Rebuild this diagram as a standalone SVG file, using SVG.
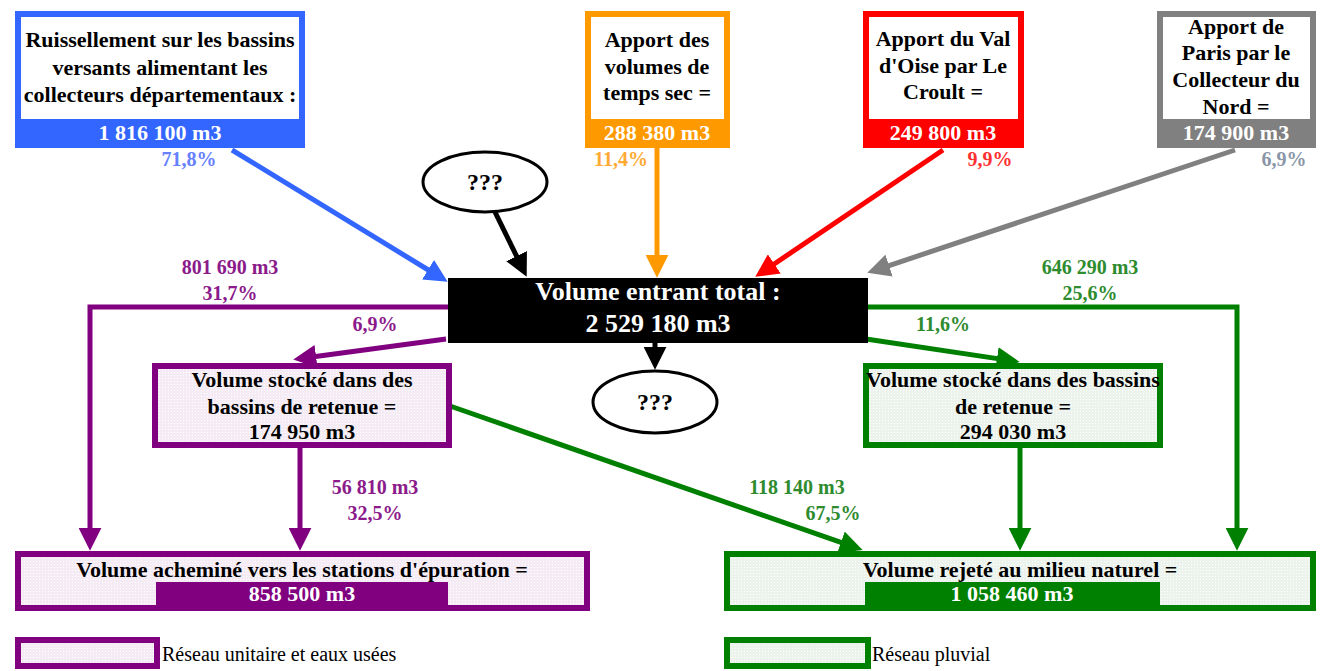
<svg xmlns="http://www.w3.org/2000/svg" width="1320" height="671" viewBox="0 0 1320 671">
<style>
text{font-family:"Liberation Serif","Times New Roman",serif;font-weight:bold;text-anchor:middle}
.t{font-size:22px;fill:#000}
.w{font-size:22px;fill:#fff}
.big{font-size:26px;fill:#fff}
.q{font-size:24px;fill:#000}
.p{font-size:20px}
.leg{font-size:20px;font-weight:normal;text-anchor:start;fill:#000}
.ln{fill:none;stroke-width:5}
</style>
<defs>
<pattern id="pp" width="3" height="3" patternUnits="userSpaceOnUse"><rect width="3" height="3" fill="#f4ebf4"/><rect width="1" height="1" fill="#fff"/></pattern>
<pattern id="pg" width="3" height="3" patternUnits="userSpaceOnUse"><rect width="3" height="3" fill="#ecf3ec"/><rect width="1" height="1" fill="#fff"/></pattern>
<marker id="aBlue" viewBox="0 0 10 10" refX="1" refY="5" markerWidth="23" markerHeight="23" markerUnits="userSpaceOnUse" orient="auto"><path d="M0,0 L10,5 L0,10z" fill="#3366ff"/></marker>
<marker id="aOr" viewBox="0 0 10 10" refX="1" refY="5" markerWidth="23" markerHeight="23" markerUnits="userSpaceOnUse" orient="auto"><path d="M0,0 L10,5 L0,10z" fill="#ff9900"/></marker>
<marker id="aRed" viewBox="0 0 10 10" refX="1" refY="5" markerWidth="23" markerHeight="23" markerUnits="userSpaceOnUse" orient="auto"><path d="M0,0 L10,5 L0,10z" fill="#ff0000"/></marker>
<marker id="aGr" viewBox="0 0 10 10" refX="1" refY="5" markerWidth="23" markerHeight="23" markerUnits="userSpaceOnUse" orient="auto"><path d="M0,0 L10,5 L0,10z" fill="#808080"/></marker>
<marker id="aBk" viewBox="0 0 10 10" refX="1" refY="5" markerWidth="23" markerHeight="23" markerUnits="userSpaceOnUse" orient="auto"><path d="M0,0 L10,5 L0,10z" fill="#000"/></marker>
<marker id="aPu" viewBox="0 0 10 10" refX="1" refY="5" markerWidth="23" markerHeight="23" markerUnits="userSpaceOnUse" orient="auto"><path d="M0,0 L10,5 L0,10z" fill="#800080"/></marker>
<marker id="aGn" viewBox="0 0 10 10" refX="1" refY="5" markerWidth="23" markerHeight="23" markerUnits="userSpaceOnUse" orient="auto"><path d="M0,0 L10,5 L0,10z" fill="#008000"/></marker>
</defs>
<rect width="1320" height="671" fill="#fff"/>

<g id="connectors">
<path class="ln" stroke="#3366ff" d="M232,150 L430,271" marker-end="url(#aBlue)"/>
<path class="ln" stroke="#000" d="M495,212 L517.6,258.2" marker-end="url(#aBk)"/>
<path class="ln" stroke="#ff9900" d="M657,148 L657,257" marker-end="url(#aOr)"/>
<path class="ln" stroke="#ff0000" d="M943,150 L772.4,265.2" marker-end="url(#aRed)"/>
<path class="ln" stroke="#808080" d="M1235,150 L886.9,266.3" marker-end="url(#aGr)"/>
<path class="ln" stroke="#000" d="M655,343 L655,349" marker-end="url(#aBk)"/>
<path class="ln" stroke="#800080" d="M446,339 L313.8,356.8" marker-end="url(#aPu)"/>
<path class="ln" stroke="#008000" d="M866,339 L999.2,358.9" marker-end="url(#aGn)"/>
<path class="ln" stroke="#800080" d="M448,307 L90,307 L90,530" marker-end="url(#aPu)"/>
<path class="ln" stroke="#800080" d="M300,448 L300,530" marker-end="url(#aPu)"/>
<path class="ln" stroke="#008000" d="M868,307 L1237,307 L1237,530" marker-end="url(#aGn)"/>
<path class="ln" stroke="#008000" d="M1020,448 L1020,530" marker-end="url(#aGn)"/>
<path class="ln" stroke="#008000" d="M450,406 L843.1,543.2" marker-end="url(#aGn)"/>
</g>

<g id="labels">
<text class="p" x="189" y="166" fill="#6680ff">71,8%</text>
<text class="p" x="621" y="166" fill="#ffaa33">11,4%</text>
<text class="p" x="990" y="166" fill="#ff3030">9,9%</text>
<text class="p" x="1284" y="166" fill="#8a96a8">6,9%</text>
<text class="p" x="230" y="274" fill="#8b1a8b">801 690 m3</text>
<text class="p" x="230" y="300" fill="#8b1a8b">31,7%</text>
<text class="p" x="375" y="331" fill="#8b1a8b">6,9%</text>
<text class="p" x="375" y="494" fill="#8b1a8b">56 810 m3</text>
<text class="p" x="375" y="520" fill="#8b1a8b">32,5%</text>
<text class="p" x="1090" y="274" fill="#2e8b2e">646 290 m3</text>
<text class="p" x="1090" y="300" fill="#2e8b2e">25,6%</text>
<text class="p" x="943" y="331" fill="#2e8b2e">11,6%</text>
<text class="p" x="797" y="494" fill="#2e8b2e">118 140 m3</text>
<text class="p" x="833" y="520" fill="#2e8b2e">67,5%</text>
</g>

<g id="n-ruissellement">
<rect x="15" y="11" width="290" height="137" fill="#3366ff"/>
<rect x="21" y="17" width="278" height="102" fill="#fff"/>
<text class="t" x="160" y="47">Ruissellement sur les bassins</text>
<text class="t" x="160" y="75">versants alimentant les</text>
<text class="t" x="160" y="102">collecteurs départementaux :</text>
<text class="w" x="160" y="140">1 816 100 m3</text>
</g>

<g id="n-tempssec">
<rect x="585" y="11" width="145" height="137" fill="#ff9900"/>
<rect x="591" y="17" width="133" height="102" fill="#fff"/>
<text class="t" x="657" y="47">Apport des</text>
<text class="t" x="657" y="74">volumes de</text>
<text class="t" x="657" y="100">temps sec =</text>
<text class="w" x="657" y="140">288 380 m3</text>
</g>

<g id="n-valdoise">
<rect x="863" y="11" width="161" height="137" fill="#ff0000"/>
<rect x="869" y="17" width="149" height="102" fill="#fff"/>
<text class="t" x="943" y="46">Apport du Val</text>
<text class="t" x="943" y="73">d'Oise par Le</text>
<text class="t" x="943" y="99">Croult =</text>
<text class="w" x="943" y="140">249 800 m3</text>
</g>

<g id="n-paris">
<rect x="1157" y="11" width="159" height="137" fill="#808080"/>
<rect x="1163" y="17" width="147" height="102" fill="#fff"/>
<text class="t" x="1236" y="34">Apport de</text>
<text class="t" x="1236" y="60">Paris par le</text>
<text class="t" x="1236" y="87">Collecteur du</text>
<text class="t" x="1236" y="114">Nord =</text>
<text class="w" x="1236" y="140">174 900 m3</text>
</g>

<g id="n-inconnu-haut">
<ellipse cx="485" cy="182" rx="62" ry="30" fill="#fff" stroke="#000" stroke-width="3"/>
<text class="q" x="485" y="190">???</text>
</g>

<g id="n-total">
<rect x="448" y="278" width="420" height="65" fill="#000"/>
<text class="big" x="658" y="300">Volume entrant total :</text>
<text class="big" x="658" y="332">2 529 180 m3</text>
</g>

<g id="n-inconnu-bas">
<ellipse cx="655" cy="402" rx="62" ry="31" fill="#fff" stroke="#000" stroke-width="3"/>
<text class="q" x="655" y="410">???</text>
</g>

<g id="n-stock-unitaire">
<rect x="155" y="366" width="294" height="79" fill="url(#pp)" stroke="#800080" stroke-width="6"/>
<text class="t" x="302" y="387">Volume stocké dans des</text>
<text class="t" x="302" y="414">bassins de retenue =</text>
<text class="t" x="302" y="439">174 950 m3</text>
</g>

<g id="n-stock-pluvial">
<rect x="866" y="366" width="294" height="79" fill="url(#pg)" stroke="#008000" stroke-width="6"/>
<text class="t" x="1013" y="387">Volume stocké dans des bassins</text>
<text class="t" x="1013" y="414">de retenue =</text>
<text class="t" x="1013" y="439">294 030 m3</text>
</g>

<g id="n-stations">
<rect x="18" y="554" width="569" height="54" fill="url(#pp)" stroke="#800080" stroke-width="6"/>
<rect x="156" y="582" width="292" height="24" fill="#800080"/>
<text class="t" x="302" y="577">Volume acheminé vers les stations d'épuration =</text>
<text class="w" x="302" y="601">858 500 m3</text>
</g>

<g id="n-milieu">
<rect x="727" y="554" width="586" height="54" fill="url(#pg)" stroke="#008000" stroke-width="6"/>
<rect x="865" y="582" width="295" height="24" fill="#008000"/>
<text class="t" x="1020" y="577">Volume rejeté au milieu naturel =</text>
<text class="w" x="1012" y="601">1 058 460 m3</text>
</g>

<g id="legend-unitaire">
<rect x="18" y="640" width="139" height="26" fill="url(#pp)" stroke="#800080" stroke-width="6"/>
<text class="leg" x="162" y="661">Réseau unitaire et eaux usées</text>
</g>

<g id="legend-pluvial">
<rect x="727" y="640" width="141" height="26" fill="url(#pg)" stroke="#008000" stroke-width="6"/>
<text class="leg" x="872" y="661">Réseau pluvial</text>
</g>
</svg>
